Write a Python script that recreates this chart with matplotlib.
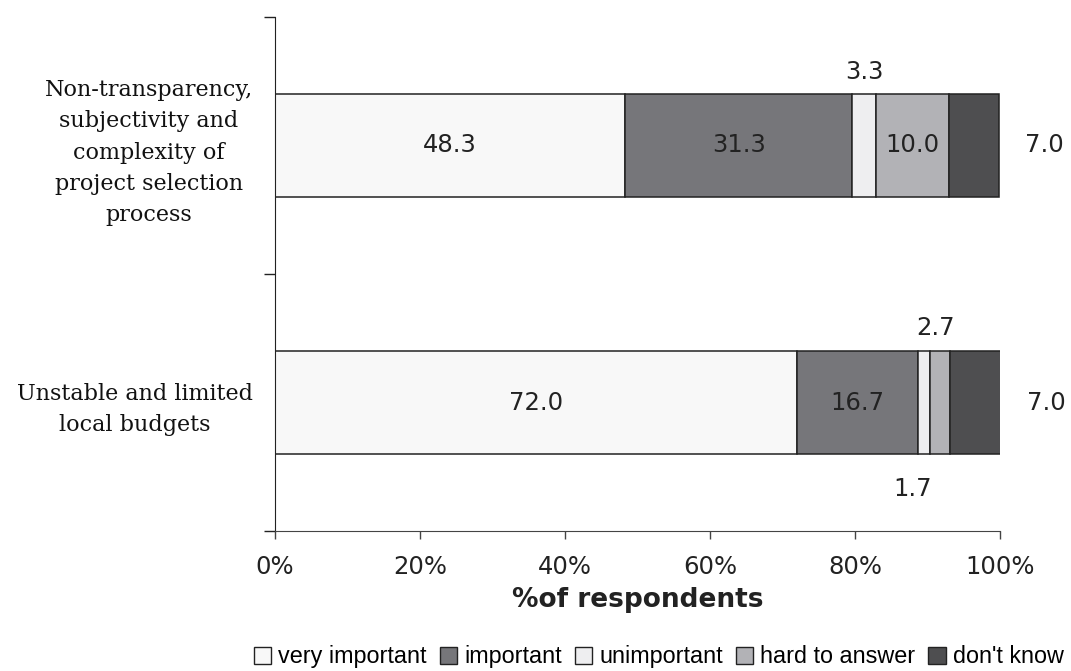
import numpy as np
import matplotlib.pyplot as plt
from matplotlib.patches import Patch

categories = ['Unstable and limited\nlocal budgets',
              'Non-transparency,\nsubjectivity and\ncomplexity of\nproject selection\nprocess']
series = ['very important', 'important', 'unimportant', 'hard to answer', "don't know"]
# one row per category (bottom, top), one column per answer
values = np.array([
    [72.0, 16.7, 1.7, 2.7, 7.0],
    [48.3, 31.3, 3.3, 10.0, 7.0],
])
colors = ['#f8f8f8', '#76767a', '#eeeef0', '#b2b2b6', '#4e4e50']
xticks = [0, 20, 40, 60, 80, 100]

# label placement for each value: (dx, dy) offset in points from segment centre
label_offsets = [
    [(0, 0), (0, 0), (-8, -62), (-3.5, 54), (51, 0)],
    [(0, 0), (0, 0), (0, 53), (0, 0), (51, 0)],
]

plt.rcParams['font.family'] = ['DejaVu Sans']

fig = plt.figure(figsize=(10.71, 6.71), dpi=100)
ax = fig.add_axes([0.2568, 0.2086, 0.6769, 0.7661])

ypos = np.arange(len(categories)) + 0.5
left = np.zeros(len(categories))
for j, name in enumerate(series):
    ax.barh(ypos, values[:, j], left=left, height=0.4, color=colors[j],
            edgecolor='#222222', linewidth=1.1, label=name)
    for i in range(len(categories)):
        dx, dy = label_offsets[i][j]
        ax.annotate(f'{values[i, j]:.1f}', (left[i] + values[i, j] / 2, ypos[i]),
                    xytext=(dx, dy), textcoords='offset points',
                    ha='center', va='center', fontsize=17.5, color='#222222',
                    annotation_clip=False)
    left += values[:, j]

ax.set_xlim(0, 100)
ax.set_ylim(0, len(categories))
ax.set_xticks(xticks)
ax.set_xticklabels([f'{t}%' for t in xticks], fontsize=17.5, color='#222222')
ax.tick_params(axis='x', direction='out', length=6, width=1, color='#444444', pad=11)

# major ticks mark category borders, minor ticks carry the names
ax.set_yticks(np.arange(len(categories) + 1))
ax.set_yticklabels([])
ax.set_yticks(ypos, minor=True)
ax.set_yticklabels(categories, minor=True, fontsize=16, family='DejaVu Serif',
                   multialignment='center', linespacing=1.55, color='#111111')
ax.tick_params(axis='y', which='major', direction='out', length=8, width=1, color='#222222')
ax.tick_params(axis='y', which='minor', length=0, pad=16)

for side in ['top', 'right']:
    ax.spines[side].set_visible(False)
ax.spines['left'].set_color('#222222')
ax.spines['bottom'].set_color('#444444')

ax.set_xlabel('%of respondents', fontsize=19, fontweight='bold', color='#222222', labelpad=6)

handles = [Patch(facecolor=c, edgecolor='#222222', linewidth=1) for c in colors]
fig.legend(handles, series, loc='center', bbox_to_anchor=(0.615, 0.021), ncol=5,
           frameon=False, prop={'family': 'Liberation Sans', 'size': 16.8},
           handlelength=0.75, handleheight=0.75,
           handletextpad=0.3, columnspacing=0.55, borderaxespad=0)

plt.savefig('out.png')
